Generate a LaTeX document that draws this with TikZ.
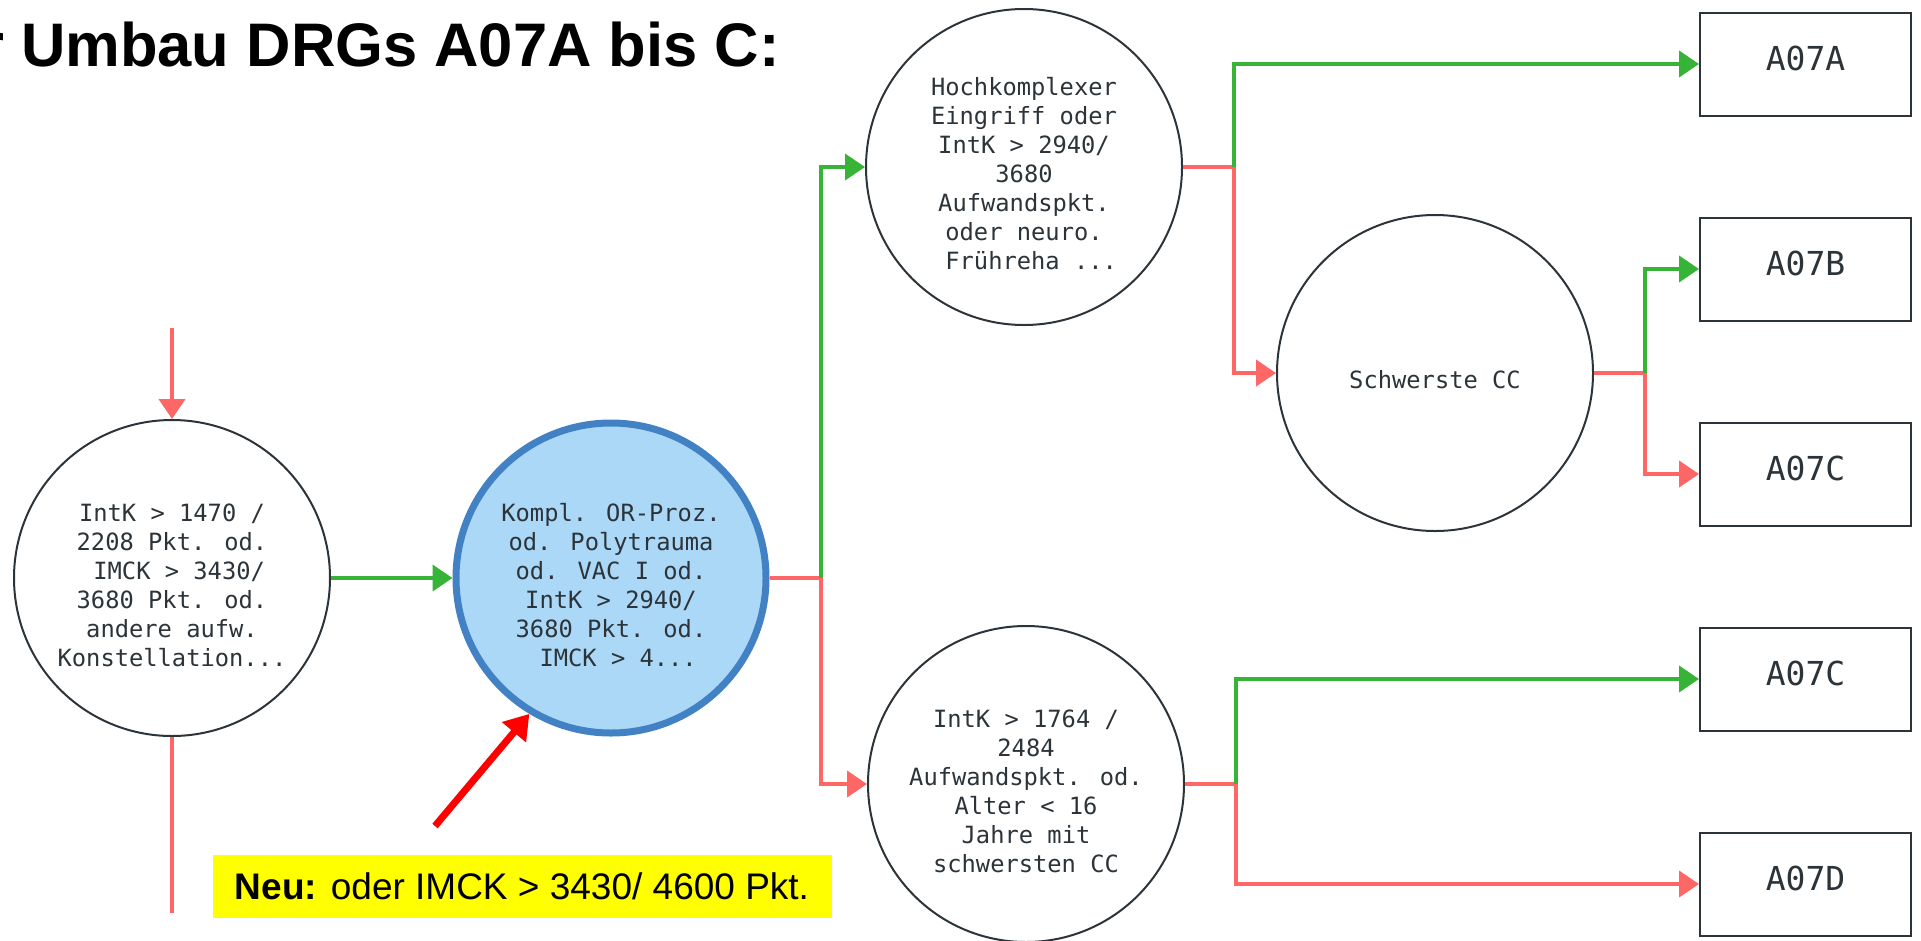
\documentclass[tikz,border=0pt]{standalone}
\usepackage{fontspec}
\setmainfont{Liberation Sans}
\newfontfamily\codefont{DejaVu Sans Mono}
\usetikzlibrary{arrows.meta, positioning}
\definecolor{neinrot}{RGB}{255,102,102}
\definecolor{jagruen}{RGB}{55,180,55}
\definecolor{umriss}{RGB}{44,52,58}
\definecolor{neublau}{RGB}{66,130,196}
\definecolor{neuhell}{RGB}{170,216,246}
\definecolor{markgelb}{RGB}{255,255,0}
\newcommand{\obenluft}{\rule{0pt}{32pt}}

\begin{document}
\begin{tikzpicture}[
        x=1pt, y=-1pt,
        frage/.style={circle, draw=umriss, fill=white, line width=2pt, minimum size=316pt, inner sep=0pt, align=center, text=umriss, font=\codefont\fontsize{23.75}{29}\selectfont},
        neufrage/.style={frage, draw=neublau, fill=neuhell, line width=7pt, minimum size=310pt},
        drg/.style={rectangle, draw=umriss, fill=white, line width=2pt, minimum width=211pt, minimum height=103pt, inner sep=0pt, text=umriss, text height=30pt, text depth=18pt, font=\codefont\fontsize{33}{38}\selectfont},
        hinweis/.style={rectangle, fill=markgelb, minimum width=619pt, minimum height=63pt, inner sep=0pt, font=\fontsize{37}{44}\selectfont},
        linie/.style={line width=4pt, neinrot},
        nein/.style={linie, -{Triangle[length=20pt, width=26pt]}},
        ja/.style={nein, jagruen},
        zeiger/.style={-{Triangle[length=24pt, width=30pt]}, line width=7pt, red}
    ]
        \useasboundingbox (0,0) rectangle (1921,940);

        % Ueberschrift
        \node[anchor=base east, inner sep=0pt, font=\bfseries\fontsize{61.5}{70}\selectfont] (titel) at (780,66) {r Umbau DRGs A07A bis C:};

        % Abfragen
        \node[frage] (n1) at (172,578) {\obenluft IntK > 1470 /\\2208 Pkt. od.\\~IMCK > 3430/\\3680 Pkt. od.\\andere aufw.\\Konstellation...};
        \node[neufrage, right=121.5pt of n1] (kompl) {\obenluft Kompl. OR-Proz.\\od. Polytrauma\\od. VAC I od.\\IntK > 2940/\\3680 Pkt. od.\\~IMCK > 4...};
        \node[frage] (hoch) at (1024,167) {\obenluft Hochkomplexer\\Eingriff oder\\IntK > 2940/\\3680\\Aufwandspkt.\\oder neuro.\\~Frühreha ...};
        \node[frage] (alter) at (1026,784) {\obenluft IntK > 1764 /\\2484\\Aufwandspkt. od.\\Alter < 16\\Jahre mit\\schwersten CC};
        \node[frage] (schwer) at (1435,373) {\obenluft Schwerste CC};

        % DRGs
        \node[drg] (a07a) at (1805.5,64) {A07A};
        \node[drg, below=100pt of a07a] (a07b) {A07B};
        \node[drg, below=100pt of a07b] (a07c) {A07C};
        \node[drg, below=100pt of a07c] (a07c2) {A07C};
        \node[drg, below=100pt of a07c2] (a07d) {A07D};

        % Hinweis
        \node[hinweis] (neu) at (522,886.5) {\textbf{Neu:} oder IMCK > 3430/ 4600 Pkt.};
        \coordinate (zeigerfuss) at (435,826);
        \draw[zeiger] (zeigerfuss) -- (kompl.239);

        % Verbindungen
        \coordinate (rein) at (172,328);
        \coordinate (raus) at (172,913);
        \draw[nein] (rein) -- (n1);
        \draw[linie] (n1) -- (raus);
        \draw[ja] (n1) -- (kompl);

        \draw[nein] (kompl.east) -- ++(51,0) coordinate (j1) |- (alter);
        \draw[ja] (j1) |- (hoch);

        \draw[nein] (hoch.east) -- ++(51,0) coordinate (j2) |- (schwer);
        \draw[ja] (j2) |- (a07a);

        \draw[nein] (schwer.east) -- ++(51,0) coordinate (j3) |- (a07c);
        \draw[ja] (j3) |- (a07b);

        \draw[nein] (alter.east) -- ++(51,0) coordinate (j4) |- (a07d);
        \draw[ja] (j4) |- (a07c2);
    \end{tikzpicture}
\end{document}
